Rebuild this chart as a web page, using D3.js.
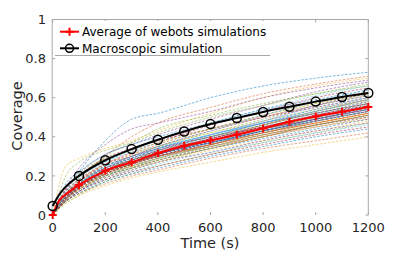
<!DOCTYPE html>
<html>
<head>
<meta charset="utf-8">
<script src="https://cdn.jsdelivr.net/npm/d3@7"></script>
<style>
  body { margin: 0; background: #fff; }
  svg { display: block; font-family: "DejaVu Sans", sans-serif; }
</style>
</head>
<body>
<div id="chart"></div>
<script>
"use strict";

// sample times of the individual webots runs
var runTimes = [0, 50, 100, 200, 300, 400, 600, 800, 1000, 1200];

// coverage of each webots run
var webotsRuns = [
        [0, 0.12, 0.22, 0.38, 0.49, 0.52, 0.60, 0.66, 0.70, 0.73],
        [0, 0.10, 0.18, 0.30, 0.40, 0.47, 0.55, 0.62, 0.67, 0.71],
        [0, 0.25, 0.29, 0.34, 0.38, 0.43, 0.52, 0.60, 0.66, 0.70],
        [0, 0.13, 0.21, 0.31, 0.36, 0.41, 0.49, 0.56, 0.63, 0.68],
        [0, 0.11, 0.19, 0.30, 0.37, 0.44, 0.51, 0.57, 0.62, 0.67],
        [0, 0.12, 0.18, 0.27, 0.33, 0.38, 0.47, 0.54, 0.61, 0.66],
        [0, 0.10, 0.17, 0.26, 0.32, 0.37, 0.46, 0.53, 0.60, 0.65],
        [0, 0.16, 0.22, 0.31, 0.36, 0.40, 0.47, 0.54, 0.59, 0.64],
        [0, 0.11, 0.17, 0.26, 0.31, 0.36, 0.44, 0.51, 0.58, 0.63],
        [0, 0.10, 0.17, 0.25, 0.30, 0.35, 0.43, 0.50, 0.57, 0.62],
        [0, 0.08, 0.14, 0.22, 0.28, 0.33, 0.41, 0.48, 0.56, 0.62],
        [0, 0.11, 0.16, 0.25, 0.30, 0.35, 0.42, 0.49, 0.56, 0.61],
        [0, 0.10, 0.16, 0.25, 0.29, 0.34, 0.41, 0.48, 0.55, 0.60],
        [0, 0.13, 0.20, 0.29, 0.34, 0.38, 0.44, 0.50, 0.55, 0.60],
        [0, 0.10, 0.16, 0.24, 0.29, 0.34, 0.41, 0.47, 0.54, 0.59],
        [0, 0.08, 0.13, 0.21, 0.26, 0.31, 0.38, 0.46, 0.53, 0.59],
        [0, 0.10, 0.16, 0.24, 0.28, 0.33, 0.40, 0.46, 0.53, 0.58],
        [0, 0.11, 0.17, 0.25, 0.30, 0.34, 0.40, 0.47, 0.52, 0.58],
        [0, 0.09, 0.15, 0.23, 0.28, 0.32, 0.39, 0.46, 0.52, 0.57],
        [0, 0.12, 0.19, 0.27, 0.32, 0.35, 0.41, 0.47, 0.52, 0.57],
        [0, 0.10, 0.15, 0.23, 0.27, 0.32, 0.39, 0.45, 0.51, 0.56],
        [0, 0.07, 0.12, 0.20, 0.25, 0.29, 0.36, 0.44, 0.50, 0.56],
        [0, 0.09, 0.15, 0.22, 0.27, 0.31, 0.38, 0.44, 0.50, 0.55],
        [0, 0.10, 0.16, 0.23, 0.28, 0.32, 0.38, 0.44, 0.50, 0.55],
        [0, 0.12, 0.18, 0.26, 0.30, 0.34, 0.40, 0.45, 0.50, 0.55],
        [0, 0.09, 0.15, 0.22, 0.27, 0.31, 0.37, 0.43, 0.49, 0.54],
        [0, 0.07, 0.12, 0.19, 0.24, 0.29, 0.36, 0.42, 0.48, 0.54],
        [0, 0.09, 0.14, 0.22, 0.26, 0.30, 0.37, 0.43, 0.48, 0.53],
        [0, 0.10, 0.15, 0.22, 0.26, 0.31, 0.37, 0.42, 0.48, 0.53],
        [0, 0.09, 0.14, 0.21, 0.26, 0.30, 0.36, 0.42, 0.47, 0.52],
        [0, 0.11, 0.17, 0.24, 0.28, 0.32, 0.38, 0.43, 0.47, 0.52],
        [0, 0.09, 0.14, 0.21, 0.25, 0.29, 0.35, 0.41, 0.46, 0.51],
        [0, 0.07, 0.11, 0.18, 0.23, 0.27, 0.34, 0.40, 0.46, 0.51],
        [0, 0.08, 0.14, 0.20, 0.25, 0.29, 0.35, 0.40, 0.45, 0.50],
        [0, 0.09, 0.13, 0.20, 0.24, 0.28, 0.34, 0.40, 0.46, 0.50],
        [0, 0.08, 0.13, 0.20, 0.24, 0.28, 0.34, 0.39, 0.44, 0.49],
        [0, 0.10, 0.16, 0.23, 0.27, 0.30, 0.35, 0.40, 0.45, 0.49],
        [0, 0.08, 0.13, 0.19, 0.24, 0.27, 0.33, 0.38, 0.43, 0.48],
        [0, 0.08, 0.12, 0.19, 0.23, 0.27, 0.32, 0.38, 0.43, 0.47],
        [0, 0.06, 0.10, 0.17, 0.21, 0.25, 0.31, 0.37, 0.42, 0.47],
        [0, 0.08, 0.12, 0.18, 0.22, 0.26, 0.32, 0.37, 0.42, 0.46],
        [0, 0.07, 0.12, 0.18, 0.22, 0.25, 0.31, 0.36, 0.41, 0.45],
        [0, 0.07, 0.11, 0.17, 0.21, 0.24, 0.30, 0.35, 0.40, 0.44],
        [0, 0.07, 0.11, 0.16, 0.20, 0.23, 0.29, 0.34, 0.38, 0.42],
        [0, 0.06, 0.10, 0.15, 0.19, 0.22, 0.27, 0.32, 0.36, 0.40],
        [0, 0.09, 0.15, 0.24, 0.30, 0.35, 0.43, 0.50, 0.56, 0.61],
        [0, 0.10, 0.16, 0.24, 0.29, 0.33, 0.40, 0.46, 0.52, 0.57],
        [0, 0.09, 0.15, 0.24, 0.28, 0.32, 0.39, 0.45, 0.51, 0.56],
        [0, 0.10, 0.15, 0.23, 0.27, 0.31, 0.38, 0.44, 0.49, 0.54],
        [0, 0.08, 0.14, 0.21, 0.26, 0.30, 0.36, 0.43, 0.48, 0.53],
        [0, 0.10, 0.15, 0.22, 0.27, 0.30, 0.36, 0.42, 0.47, 0.52],
        [0, 0.09, 0.14, 0.21, 0.25, 0.28, 0.34, 0.40, 0.45, 0.50],
        [0, 0.14, 0.24, 0.36, 0.44, 0.47, 0.53, 0.60, 0.65, 0.69],
        [0, 0.20, 0.27, 0.33, 0.37, 0.42, 0.50, 0.56, 0.62, 0.66],
        [0, 0.11, 0.16, 0.25, 0.29, 0.34, 0.41, 0.47, 0.53, 0.58],
        [0, 0.08, 0.14, 0.22, 0.27, 0.31, 0.38, 0.44, 0.49, 0.55],
        [0, 0.09, 0.14, 0.21, 0.26, 0.30, 0.37, 0.43, 0.49, 0.54],
        [0, 0.10, 0.15, 0.23, 0.28, 0.32, 0.39, 0.45, 0.50, 0.56],
        [0, 0.08, 0.13, 0.20, 0.25, 0.29, 0.35, 0.41, 0.47, 0.52],
        [0, 0.11, 0.17, 0.24, 0.29, 0.33, 0.39, 0.46, 0.52, 0.57],
        [0, 0.09, 0.14, 0.22, 0.27, 0.31, 0.38, 0.44, 0.50, 0.55],
        [0, 0.10, 0.16, 0.23, 0.27, 0.31, 0.37, 0.43, 0.48, 0.53],
        [0, 0.08, 0.14, 0.21, 0.26, 0.31, 0.38, 0.45, 0.51, 0.57],
        [0, 0.09, 0.15, 0.23, 0.28, 0.33, 0.40, 0.47, 0.53, 0.59],
        [0, 0.10, 0.15, 0.22, 0.26, 0.30, 0.36, 0.41, 0.46, 0.51],
        [0, 0.09, 0.14, 0.21, 0.25, 0.29, 0.36, 0.42, 0.48, 0.53],
        [0, 0.11, 0.16, 0.24, 0.28, 0.32, 0.38, 0.44, 0.49, 0.54],
        [0, 0.08, 0.13, 0.20, 0.24, 0.28, 0.35, 0.41, 0.46, 0.51],
        [0, 0.10, 0.16, 0.24, 0.29, 0.34, 0.41, 0.48, 0.54, 0.60],
        [0, 0.09, 0.15, 0.22, 0.27, 0.32, 0.39, 0.45, 0.51, 0.56],
        [0, 0.10, 0.15, 0.23, 0.27, 0.31, 0.37, 0.43, 0.49, 0.55],
        [0, 0.08, 0.13, 0.21, 0.26, 0.30, 0.36, 0.42, 0.47, 0.52],
        [0, 0.12, 0.18, 0.26, 0.31, 0.35, 0.42, 0.48, 0.54, 0.59],
        [0, 0.09, 0.14, 0.22, 0.27, 0.31, 0.37, 0.43, 0.48, 0.53],
        [0, 0.14, 0.21, 0.29, 0.33, 0.37, 0.44, 0.51, 0.57, 0.62],
        [0, 0.10, 0.16, 0.25, 0.30, 0.35, 0.43, 0.51, 0.58, 0.64]
];

// average of webots simulations
var avgTimes = [0, 25, 50, 100, 200, 300, 400, 500, 600, 700, 800, 900, 1000, 1100, 1200];
var avgCoverage = [0, 0.075, 0.105, 0.154, 0.226, 0.27, 0.316, 0.354, 0.381, 0.41, 0.443, 0.477, 0.504, 0.528, 0.552];

// macroscopic simulation
var macroTimes = [0, 25, 50, 100, 200, 300, 400, 500, 600, 700, 800, 900, 1000, 1100, 1200];
var macroCoverage = [0.046, 0.105, 0.145, 0.2, 0.28, 0.337, 0.385, 0.427, 0.465, 0.496, 0.527, 0.554, 0.58, 0.604, 0.624];

// markers are put every 100 s
var markerTimes = [0, 100, 200, 300, 400, 500, 600, 700, 800, 900, 1000, 1100, 1200];

var xTicks = [0, 200, 400, 600, 800, 1000, 1200];
var yTicks = [0, 0.2, 0.4, 0.6, 0.8, 1];

var matlabColors = ["#0072BD", "#D95319", "#EDB120", "#7E2F8E", "#77AC30", "#4DBEEE", "#A2142F"];

var width = 407, height = 253;
var axisGray = "#a8a8a8", textGray = "#262626";

var svg = d3.select("#chart").append("svg")
        .attr("width", width)
        .attr("height", height);

var x = d3.scaleLinear().domain([0, 1200]).range([52.7, 368.3]);
var y = d3.scaleLinear().domain([0, 1]).range([215, 19.5]);

// webots runs
var runLine = d3.line()
        .x(function (d) { return x(d[0]); })
        .y(function (d) { return y(d[1]); })
        .curve(d3.curveMonotoneX);

svg.append("g").selectAll("path")
        .data(webotsRuns)
        .enter()
        .append("path")
        .attr("d", function (run) { return runLine(run.map(function (v, i) { return [runTimes[i], v]; })); })
        .attr("fill", "none")
        .attr("stroke", function (d, i) { return matlabColors[i % matlabColors.length]; })
        .attr("stroke-width", 0.8)
        .attr("stroke-dasharray", "2.5,1.5")
        .attr("opacity", 0.65);

// axes box (left, top, right) with inward ticks
var frame = svg.append("g").attr("stroke", axisGray).attr("fill", "none");
frame.append("line").attr("x1", 52.2).attr("x2", 52.2).attr("y1", 19.5).attr("y2", 215);
frame.append("line").attr("x1", 52.2).attr("x2", 368.3).attr("y1", 19.5).attr("y2", 19.5);
frame.append("line").attr("x1", 368.3).attr("x2", 368.3).attr("y1", 19.5).attr("y2", 215);

xTicks.forEach(function (t) {
        frame.append("line").attr("x1", x(t)).attr("x2", x(t)).attr("y1", 215).attr("y2", 212);
        frame.append("line").attr("x1", x(t)).attr("x2", x(t)).attr("y1", 19.5).attr("y2", 22.5);
});
yTicks.forEach(function (v) {
        frame.append("line").attr("x1", 52.2).attr("x2", 55.2).attr("y1", y(v)).attr("y2", y(v));
        frame.append("line").attr("x1", 368.3).attr("x2", 365.3).attr("y1", y(v)).attr("y2", y(v));
});

// tick labels
svg.append("g").selectAll("text")
        .data(xTicks)
        .enter()
        .append("text")
        .attr("x", function (d) { return x(d); })
        .attr("y", 231.5)
        .attr("text-anchor", "middle")
        .attr("font-size", "13px")
        .attr("fill", textGray)
        .text(function (d) { return d; });

svg.append("g").selectAll("text")
        .data(yTicks)
        .enter()
        .append("text")
        .attr("x", 46)
        .attr("y", function (d) { return y(d); })
        .attr("dy", "0.36em")
        .attr("text-anchor", "end")
        .attr("font-size", "13px")
        .attr("fill", textGray)
        .text(function (d) { return d; });

// axis titles
svg.append("text")
        .attr("x", 210)
        .attr("y", 248)
        .attr("text-anchor", "middle")
        .attr("font-size", "14.5px")
        .attr("fill", textGray)
        .text("Time (s)");

svg.append("text")
        .attr("transform", "translate(22,116)rotate(-90)")
        .attr("text-anchor", "middle")
        .attr("font-size", "14.5px")
        .attr("fill", textGray)
        .text("Coverage");

// average line with + markers
var avgLine = d3.line()
        .x(function (d, i) { return x(avgTimes[i]); })
        .y(function (d) { return y(d); })
        .curve(d3.curveMonotoneX);

svg.append("path")
        .attr("d", avgLine(avgCoverage))
        .attr("fill", "none")
        .attr("stroke", "#ff0000")
        .attr("stroke-width", 2);

function plusPath(cx, cy, s) {
        return "M" + (cx - s) + "," + cy + "H" + (cx + s) + "M" + cx + "," + (cy - s) + "V" + (cy + s);
}

svg.append("g").selectAll("path")
        .data(markerTimes)
        .enter()
        .append("path")
        .attr("d", function (t) { return plusPath(x(t), y(avgCoverage[avgTimes.indexOf(t)]), 4); })
        .attr("stroke", "#ff0000")
        .attr("stroke-width", 2);

// macroscopic line with o markers
var macroLine = d3.line()
        .x(function (d, i) { return x(macroTimes[i]); })
        .y(function (d) { return y(d); })
        .curve(d3.curveMonotoneX);

svg.append("path")
        .attr("d", macroLine(macroCoverage))
        .attr("fill", "none")
        .attr("stroke", "#000")
        .attr("stroke-width", 2);

svg.append("g").selectAll("circle")
        .data(markerTimes)
        .enter()
        .append("circle")
        .attr("cx", function (t) { return x(t); })
        .attr("cy", function (t) { return y(macroCoverage[macroTimes.indexOf(t)]); })
        .attr("r", 4.5)
        .attr("fill", "none")
        .attr("stroke", "#000")
        .attr("stroke-width", 1.5);

// legend
var legend = svg.append("g");
legend.append("rect")
        .attr("x", 54).attr("y", 21)
        .attr("width", 216).attr("height", 34.5)
        .attr("fill", "#fff");
legend.append("line")
        .attr("x1", 55).attr("x2", 270)
        .attr("y1", 55.5).attr("y2", 55.5)
        .attr("stroke", axisGray);

var legendItems = [
        { label: "Average of webots simulations", color: "#ff0000", marker: "plus", y: 31.7 },
        { label: "Macroscopic simulation", color: "#000", marker: "circle", y: 48.3 }
];

legendItems.forEach(function (item) {
        legend.append("line")
                .attr("x1", 60).attr("x2", 79)
                .attr("y1", item.y).attr("y2", item.y)
                .attr("stroke", item.color)
                .attr("stroke-width", 2);
        if (item.marker == "plus") {
                legend.append("path")
                        .attr("d", plusPath(69.5, item.y, 4))
                        .attr("stroke", item.color)
                        .attr("stroke-width", 2);
        }
        else {
                legend.append("circle")
                        .attr("cx", 69.5).attr("cy", item.y).attr("r", 4)
                        .attr("fill", "none")
                        .attr("stroke", item.color)
                        .attr("stroke-width", 1.5);
        }
        legend.append("text")
                .attr("x", 82)
                .attr("y", item.y)
                .attr("dy", "0.36em")
                .attr("font-size", "12px")
                .attr("fill", "#000")
                .text(item.label);
});
</script>
</body>
</html>
